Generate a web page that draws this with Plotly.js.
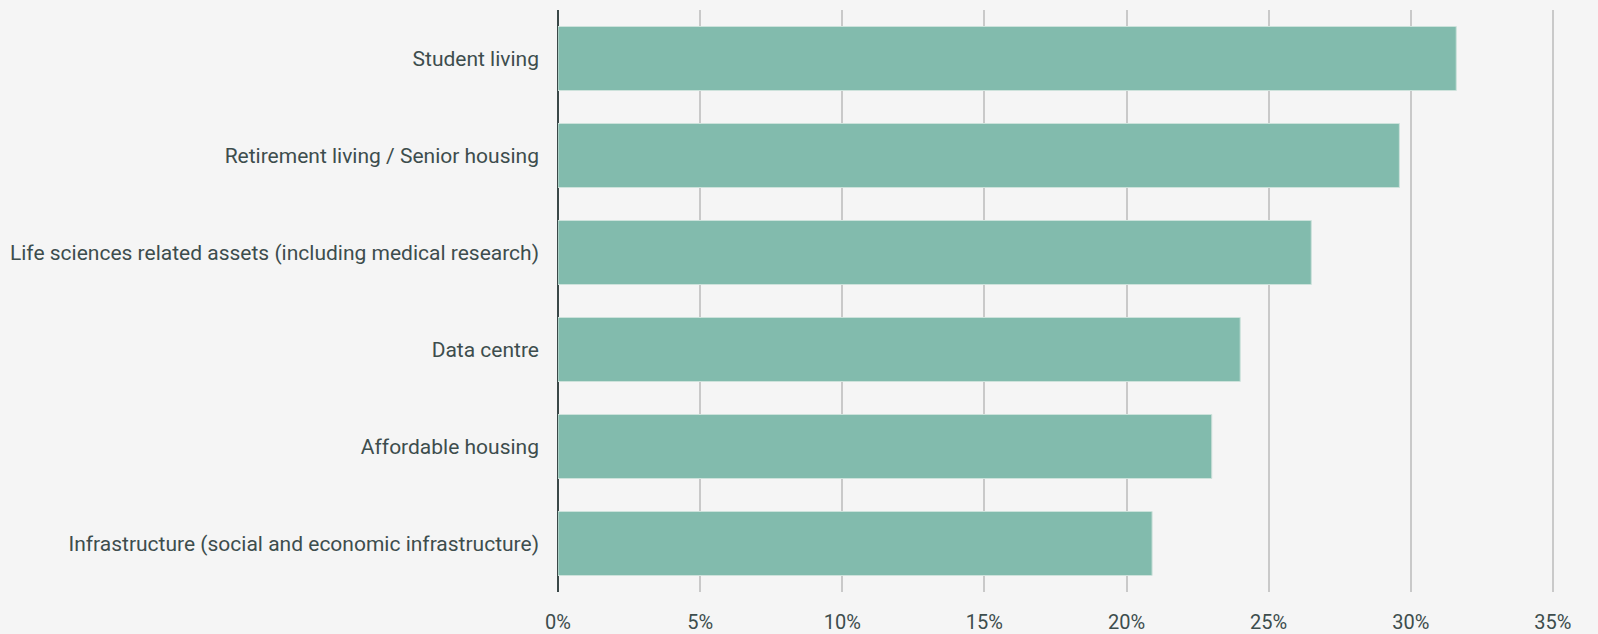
<!DOCTYPE html>
<html>
<head>
<meta charset="utf-8">
<script src="https://cdn.plot.ly/plotly-3.0.1.min.js"></script>
<style>
html,body{margin:0;padding:0;background:#f5f5f5;}
#chart{width:1598px;height:634px;}
</style>
</head>
<body>
<div id="chart"></div>
<script>
const categories = [
  "Student living",
  "Retirement living / Senior housing",
  "Life sciences related assets (including medical research)",
  "Data centre",
  "Affordable housing",
  "Infrastructure (social and economic infrastructure)"
];
const values = [31.6, 29.6, 26.5, 24.0, 23.0, 20.9];
const tickVals = [0, 5, 10, 15, 20, 25, 30, 35];
const tickText = ["0%", "5%", "10%", "15%", "20%", "25%", "30%", "35%"];

const textColor = "#3d4d4d";

Plotly.newPlot("chart", [{
  type: "bar",
  orientation: "h",
  x: values,
  y: categories,
  width: 0.66,
  marker: {color: "#82bbad", line: {color: "#cde2db", width: 1}},
  hoverinfo: "x+y"
}], {
  width: 1598,
  height: 634,
  paper_bgcolor: "#f5f5f5",
  plot_bgcolor: "#f5f5f5",
  margin: {l: 558, r: 40, t: 10, b: 42},
  showlegend: false,
  font: {family: "Roboto, 'Noto Sans', sans-serif", size: 21, color: textColor},
  xaxis: {
    range: [0, 35.18],
    tickvals: tickVals,
    ticktext: tickText,
    showgrid: true,
    gridcolor: "#c9c9c9",
    gridwidth: 2,
    zeroline: true,
    zerolinecolor: "#3a4848",
    zerolinewidth: 2,
    showline: false,
    ticks: "",
    ticklabelstandoff: 16,
    tickfont: {size: 20, color: textColor},
    fixedrange: true
  },
  yaxis: {
    type: "category",
    categoryorder: "array",
    categoryarray: categories,
    autorange: "reversed",
    showgrid: false,
    zeroline: false,
    showline: false,
    ticks: "",
    ticklabelstandoff: 18,
    tickfont: {size: 21, color: textColor},
    fixedrange: true
  }
}, {displayModeBar: false, staticPlot: true});
</script>
</body>
</html>
